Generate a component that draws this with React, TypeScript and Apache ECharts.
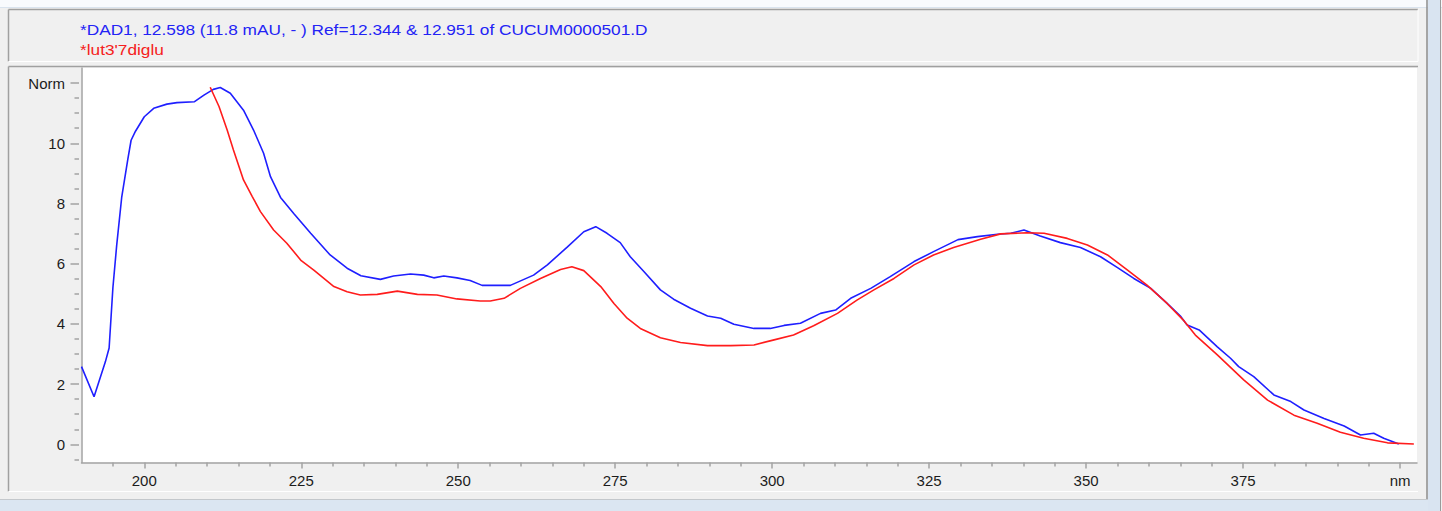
import React, { useEffect, useRef } from "react";
import * as echarts from "echarts";

// DAD spectrum of the sample peak (blue) and the library reference (red)
const dadWavelengths = [190, 192, 193.8, 194.4, 195, 195.6, 196.4, 197.4, 197.9, 198.6, 200, 201.5, 203.6, 205.2, 208, 209.5, 211, 212.1, 213.7, 215.8, 217.4, 219, 220.1, 221.7, 223.8, 226.5, 229.6, 232.3, 234.5, 237.6, 239.7, 242.4, 244.5, 246.1, 247.7, 249.8, 251.9, 253.8, 258.3, 262, 264.2, 267.4, 270, 271.9, 273.7, 275.8, 277.4, 279.6, 282.2, 284.3, 287, 289.7, 291.8, 293.9, 297.1, 299.7, 301.9, 304.5, 307.7, 310.1, 312.5, 315.7, 318.8, 322.6, 325.7, 329.6, 332.7, 335.9, 338, 340.1, 342.7, 345.9, 349.1, 352.3, 355, 357.6, 360.3, 362.9, 365.1, 366.1, 368, 370.9, 373, 374.3, 376.7, 379.9, 382.6, 384.7, 387.9, 391.1, 393.7, 395.8, 397.4, 399.8];
const dadNorm = [2.58, 1.58, 2.74, 3.2, 5.2, 6.6, 8.2, 9.5, 10.1, 10.4, 10.88, 11.16, 11.3, 11.35, 11.38, 11.6, 11.79, 11.85, 11.66, 11.1, 10.44, 9.67, 8.89, 8.2, 7.67, 7.01, 6.29, 5.85, 5.6, 5.48, 5.59, 5.66, 5.62, 5.53, 5.59, 5.53, 5.44, 5.28, 5.28, 5.62, 5.96, 6.56, 7.06, 7.23, 7.01, 6.7, 6.23, 5.73, 5.13, 4.82, 4.52, 4.26, 4.19, 3.99, 3.85, 3.85, 3.95, 4.02, 4.35, 4.46, 4.85, 5.18, 5.57, 6.07, 6.4, 6.8, 6.9, 6.98, 7.01, 7.12, 6.92, 6.7, 6.54, 6.23, 5.87, 5.51, 5.18, 4.68, 4.24, 3.96, 3.8, 3.24, 2.86, 2.58, 2.25, 1.64, 1.42, 1.14, 0.86, 0.61, 0.31, 0.37, 0.2, 0.01];

const refWavelengths = [210.5, 211.9, 213.2, 214.2, 215.8, 217.2, 218.5, 220.6, 222.7, 225, 227, 230.2, 232.3, 234.4, 237.1, 240.3, 243.5, 246.6, 249.8, 253.5, 255.1, 257.3, 259.9, 263.1, 266.3, 268.1, 270, 272.7, 274.8, 276.9, 279, 282.2, 285.4, 289.7, 293.4, 297.1, 300.3, 303.4, 306.6, 310.4, 313.5, 316.2, 319.4, 322.6, 325.7, 328.9, 333.2, 336.4, 340.6, 343.3, 347, 350.2, 353.4, 356.6, 359.7, 362.9, 365.6, 367.4, 370.9, 375.1, 378.9, 383.1, 386.8, 390.5, 394.2, 398, 402.2];
const refNorm = [11.86, 11.22, 10.44, 9.78, 8.78, 8.23, 7.73, 7.12, 6.68, 6.1, 5.79, 5.24, 5.07, 4.96, 4.98, 5.09, 4.98, 4.96, 4.83, 4.76, 4.76, 4.85, 5.18, 5.51, 5.81, 5.9, 5.77, 5.24, 4.68, 4.19, 3.85, 3.54, 3.38, 3.28, 3.28, 3.3, 3.47, 3.63, 3.94, 4.35, 4.79, 5.13, 5.51, 5.96, 6.29, 6.54, 6.81, 6.99, 7.03, 7.01, 6.84, 6.62, 6.29, 5.79, 5.29, 4.68, 4.1, 3.63, 2.97, 2.14, 1.47, 0.97, 0.7, 0.4, 0.2, 0.05, 0.01];

const titleSample = "*DAD1, 12.598 (11.8 mAU, - ) Ref=12.344 & 12.951 of CUCUM0000501.D";
const titleReference = "*lut3'7diglu";

// axis ticks and labels
const xMajorTicks = [200, 225, 250, 275, 300, 325, 350, 375, 400];
const xMinorTicks = [195, 205, 210, 215, 220, 230, 235, 240, 245, 255, 260, 265, 270, 280, 285, 290, 295, 305, 310, 315, 320, 330, 335, 340, 345, 355, 360, 365, 370, 380, 385, 390, 395];
const xUnitLabel = "nm";
const yMajorTicks = [0, 2, 4, 6, 8, 10, 12];
const yMinorTicks = [-0.5, 0.5, 1, 1.5, 2.5, 3, 3.5, 4.5, 5, 5.5, 6.5, 7, 7.5, 8.5, 9, 9.5, 10.5, 11, 11.5];
const yUnitLabel = "Norm";

const zip = (xs: number[], ys: number[]) => xs.map((x, i) => [x, ys[i]]);

const FONT = '"Liberation Sans", Arial, sans-serif';
const AXIS_GREY = "#a3a3a3";
const FRAME_DARK = "#a0a0a0";

export default function App() {
  const ref = useRef<HTMLDivElement>(null);

  useEffect(() => {
    if (!ref.current) return;
    const chart = echarts.init(ref.current, null, { renderer: "svg" });

    const X_MIN = 190;
    const X_MAX = 402.7;
    const Y_MIN = -0.6;
    const Y_MAX = 12.5;

    const grid = { left: 81.5, right: 25, top: 68, bottom: 48.6, containLabel: false };

    const hLine = (x1: number, x2: number, y: number, stroke: string, z: number, lineWidth = 1) => ({
      type: "line", z, silent: true,
      shape: { x1, y1: y, x2, y2: y },
      style: { stroke, lineWidth },
    });
    const vLine = (x: number, y1: number, y2: number, stroke: string, z: number, lineWidth = 1) => ({
      type: "line", z, silent: true,
      shape: { x1: x, y1, x2: x, y2 },
      style: { stroke, lineWidth },
    });
    const box = (x: number, y: number, width: number, height: number, fill: string, z: number) => ({
      type: "rect", z, silent: true,
      shape: { x, y, width, height },
      style: { fill },
    });

    const graphics: any[] = [
      // window chrome
      box(0, 0, 1442, 7, "#f8fafd", -10),
      hLine(0, 1442, 7.5, "#d9e3ee", -9),
      // header box
      box(9, 10, 1409, 52, "#f0f0f0", -9),
      hLine(8.5, 1418, 9.5, FRAME_DARK, -8, 1.5),
      vLine(8.5, 9.5, 61.5, FRAME_DARK, -8, 1.5),
      hLine(8.5, 1418, 61.5, "#ffffff", -8),
      vLine(1418, 9.5, 61.5, "#ffffff", -8),
      // plot panel
      hLine(8.5, 1418, 66.5, FRAME_DARK, -8, 1.5),
      vLine(8.5, 66.5, 491.5, FRAME_DARK, -8, 1.5),
      hLine(8.5, 1418, 491.5, "#ffffff", -8),
      box(81.5, 68, 1335.5, 394.4, "#ffffff", -7),
      // right and bottom edges
      vLine(1427, 0, 500, "#8c8c8c", -8, 1.5),
      box(1428, 0, 12, 511, "#d9e4f1", -8),
      vLine(1440.5, 0, 511, "#9a9a9a", -7),
      box(0, 500, 1428, 11, "#dbe6f2", -8),
      hLine(0, 1428, 499.5, "#c4c8cc", -7),
      // header texts
      {
        type: "text", z: 10, x: 80, y: 29, scaleX: 1.15,
        style: { text: titleSample, fill: "#2323f5", font: `15px ${FONT}`, verticalAlign: "middle", align: "left" },
      },
      {
        type: "text", z: 10, x: 80, y: 49, scaleX: 1.15,
        style: { text: titleReference, fill: "#f52020", font: `15px ${FONT}`, verticalAlign: "middle", align: "left" },
      },
    ];

    chart.setOption({
      animation: false,
      backgroundColor: "#f0f0f0",
      textStyle: { fontFamily: FONT },
      grid,
      graphic: graphics,
      xAxis: [
        {
          type: "value", min: X_MIN, max: X_MAX, position: "bottom",
          splitLine: { show: false },
          axisLine: { show: true, onZero: false, lineStyle: { color: AXIS_GREY, width: 1.5 } },
          axisTick: { show: true, customValues: xMajorTicks, length: 6, lineStyle: { color: AXIS_GREY, width: 1.5 } },
          axisLabel: {
            show: true, customValues: xMajorTicks, margin: 11, color: "#1c1c1c", fontSize: 15, fontFamily: FONT,
            formatter: (v: number) => (v === 400 ? xUnitLabel : String(v)),
          },
        },
        {
          type: "value", min: X_MIN, max: X_MAX, position: "bottom",
          splitLine: { show: false },
          axisLine: { show: false, onZero: false },
          axisTick: { show: true, customValues: xMinorTicks, length: 4, lineStyle: { color: AXIS_GREY, width: 1.5 } },
          axisLabel: { show: false },
        },
      ],
      yAxis: [
        {
          type: "value", min: Y_MIN, max: Y_MAX, position: "left",
          splitLine: { show: false },
          axisLine: { show: true, onZero: false, lineStyle: { color: AXIS_GREY, width: 1.5 } },
          axisTick: { show: false },
          axisLabel: { show: false },
        },
        {
          type: "value", min: Y_MIN, max: Y_MAX, position: "left", offset: 2.5,
          splitLine: { show: false },
          axisLine: { show: false, onZero: false },
          axisTick: { show: true, customValues: yMajorTicks, length: 8.5, lineStyle: { color: AXIS_GREY, width: 1.5 } },
          axisLabel: {
            show: true, customValues: yMajorTicks, margin: 14, color: "#1c1c1c", fontSize: 15, fontFamily: FONT,
            formatter: (v: number) => (v === 12 ? yUnitLabel : String(v)),
          },
        },
        {
          type: "value", min: Y_MIN, max: Y_MAX, position: "left", offset: 2.5,
          splitLine: { show: false },
          axisLine: { show: false, onZero: false },
          axisTick: { show: true, customValues: yMinorTicks, length: 4.5, lineStyle: { color: AXIS_GREY, width: 1.5 } },
          axisLabel: { show: false },
        },
      ],
      series: [
        {
          name: "DAD1",
          type: "line",
          xAxisIndex: 0,
          yAxisIndex: 0,
          data: zip(dadWavelengths, dadNorm),
          showSymbol: false,
          symbol: "none",
          lineStyle: { color: "#1f1fff", width: 1.6 },
          itemStyle: { color: "#1f1fff" },
          z: 3,
        },
        {
          name: "lut3'7diglu",
          type: "line",
          xAxisIndex: 0,
          yAxisIndex: 0,
          data: zip(refWavelengths, refNorm),
          showSymbol: false,
          symbol: "none",
          lineStyle: { color: "#ff1c1c", width: 1.6 },
          itemStyle: { color: "#ff1c1c" },
          z: 4,
        },
      ],
    });

    return () => chart.dispose();
  }, []);

  return (
    <div
      ref={ref}
      style={{ position: "absolute", left: 0, top: 0, width: 1442, height: 511 }}
    />
  );
}
